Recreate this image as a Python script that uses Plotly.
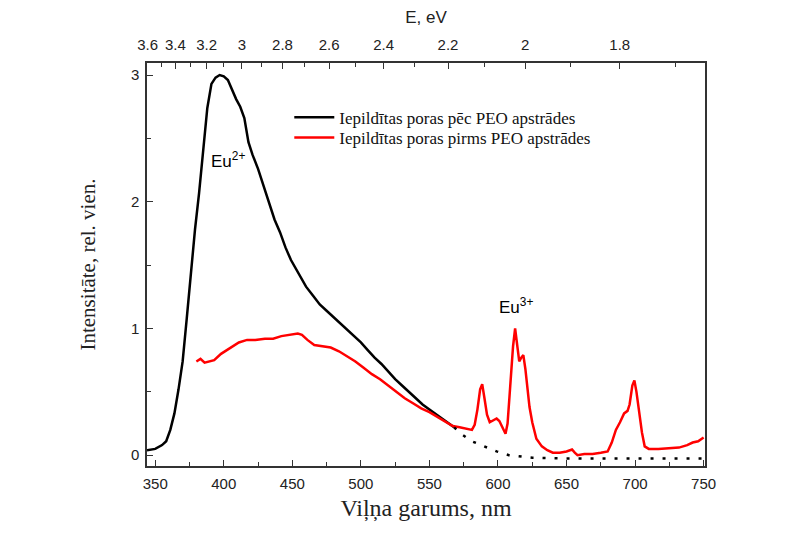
import plotly.graph_objects as go

# Eu2+ band, pores filled after PEO treatment (black)
wl_black = [344, 350, 355, 358, 361, 364, 367, 370, 373, 376, 379, 382, 385, 388, 391, 394, 397,
            400, 403, 406, 409, 412, 415, 418, 421, 425, 429, 433, 437, 441, 445, 449, 455, 460,
            465, 470, 475, 480, 485, 490, 495, 500, 505, 510, 515, 520, 525, 530, 535, 540, 545,
            550, 555, 560, 565, 568]
int_black = [0.04, 0.05, 0.08, 0.11, 0.20, 0.33, 0.52, 0.74, 1.08, 1.45, 1.78, 2.07, 2.40, 2.74,
             2.93, 2.98, 3.00, 2.99, 2.96, 2.88, 2.81, 2.75, 2.66, 2.47, 2.37, 2.26, 2.12, 1.99,
             1.86, 1.76, 1.64, 1.54, 1.43, 1.33, 1.26, 1.19, 1.14, 1.09, 1.04, 0.99, 0.94, 0.89,
             0.83, 0.77, 0.72, 0.66, 0.60, 0.55, 0.50, 0.45, 0.40, 0.36, 0.32, 0.28, 0.24, 0.22]

# extrapolated tail (dotted)
wl_tail = [568, 573, 581, 590, 599, 608, 616, 625, 650, 700, 750]
int_tail = [0.22, 0.17, 0.11, 0.07, 0.03, 0.0, -0.01, -0.02, -0.025, -0.025, -0.025]

# pores filled before PEO treatment (red)
wl_red = [380, 383, 386, 389, 393, 398, 404, 411, 417, 423, 430, 436, 442, 448, 454, 457, 461,
          466, 472, 478, 484, 490, 496, 502, 508, 514, 520, 526, 532, 538, 544, 550, 556, 562,
          567, 572, 577, 581, 583, 585, 587, 588.5, 590, 592, 594, 597, 599, 601, 603, 605.5,
          607, 609, 611, 612.5, 614, 615.5, 617, 618.5, 620, 621.5, 623, 625, 628, 632, 636,
          640, 645, 650, 654, 656, 658, 663, 669, 675, 680, 683, 686, 689, 692, 694.5, 696, 698,
          699.5, 701, 703, 705, 707, 710, 717, 725, 732, 738, 742, 746, 750]
int_red = [0.74, 0.76, 0.73, 0.74, 0.75, 0.80, 0.84, 0.89, 0.91, 0.91, 0.92, 0.92, 0.94, 0.95,
           0.96, 0.95, 0.91, 0.87, 0.86, 0.85, 0.82, 0.78, 0.74, 0.69, 0.64, 0.60, 0.55, 0.50,
           0.45, 0.41, 0.37, 0.34, 0.30, 0.26, 0.23, 0.22, 0.21, 0.20, 0.24, 0.36, 0.52, 0.56,
           0.46, 0.32, 0.26, 0.28, 0.29, 0.27, 0.23, 0.17, 0.25, 0.55, 0.86, 1.00, 0.86, 0.74,
           0.77, 0.79, 0.68, 0.50, 0.38, 0.26, 0.13, 0.07, 0.04, 0.02, 0.02, 0.03, 0.045, 0.02,
           0.0, 0.01, 0.01, 0.02, 0.03, 0.10, 0.20, 0.26, 0.33, 0.35, 0.40, 0.55, 0.59, 0.50,
           0.33, 0.18, 0.07, 0.05, 0.05, 0.055, 0.06, 0.08, 0.10, 0.11, 0.14]

# top axis: photon energy
e_major = [3.6, 3.4, 3.2, 3.0, 2.8, 2.6, 2.4, 2.2, 2.0, 1.8]
e_labels = ["3.6", "3.4", "3.2", "3", "2.8", "2.6", "2.4", "2.2", "2", "1.8"]
e_minor = [3.5, 3.3, 3.1, 2.9, 2.7, 2.5, 2.3, 2.1, 1.9, 1.7]
HC = 1239.84

xr = [344, 751]
serif = "Liberation Serif"
sans = "Liberation Sans"

fig = go.Figure()
fig.add_trace(go.Scatter(x=wl_black, y=int_black, mode="lines",
                         line=dict(color="black", width=2.5),
                         name="Iepildītas poras pēc PEO apstrādes", legend="legend"))
fig.add_trace(go.Scatter(x=wl_red, y=int_red, mode="lines",
                         line=dict(color="#ff0000", width=2.5),
                         name="Iepildītas poras pirms PEO apstrādes", legend="legend2"))
fig.add_trace(go.Scatter(x=wl_tail, y=int_tail, mode="lines",
                         line=dict(color="black", width=2.5, dash="3px,9px"),
                         showlegend=False))
# dummy trace so the top axis is drawn
fig.add_trace(go.Scatter(x=xr, y=[None, None], xaxis="x2", showlegend=False,
                         hoverinfo="skip"))

fig.add_annotation(x=403, y=2.33, text="Eu<sup>2+</sup>", showarrow=False,
                   font=dict(family=sans, size=17, color="black"))
fig.add_annotation(x=613, y=1.18, text="Eu<sup>3+</sup>", showarrow=False,
                   font=dict(family=sans, size=17, color="black"))

leg_style = dict(xanchor="left", yanchor="middle", bgcolor="rgba(0,0,0,0)",
                 font=dict(family=serif, size=17, color="#111"), itemwidth=40)

fig.update_layout(
    width=786, height=542,
    margin=dict(l=139, r=89, t=55, b=84, autoexpand=False),
    paper_bgcolor="white", plot_bgcolor="white",
    xaxis=dict(range=xr, tickvals=[350, 400, 450, 500, 550, 600, 650, 700, 750],
               ticks="inside", ticklen=6, tickwidth=1.2, tickcolor="#333",
               minor=dict(tickvals=[375, 425, 475, 525, 575, 625, 675, 725],
                          ticks="inside", ticklen=4, tickcolor="#333"),
               showline=True, linecolor="#333", linewidth=1.5, mirror=True,
               showgrid=False, zeroline=False, ticklabelstandoff=3, automargin=False,
               tickfont=dict(family=sans, size=15, color="#222"),
               title=dict(text="Viļņa garums, nm", standoff=8,
                          font=dict(family=serif, size=24, color="#222"))),
    xaxis2=dict(range=xr, overlaying="x", side="top",
                tickvals=[HC / e for e in e_major], ticktext=e_labels,
                ticks="inside", ticklen=6, tickwidth=1.2, tickcolor="#333",
                minor=dict(tickvals=[HC / e for e in e_minor],
                           ticks="inside", ticklen=4, tickcolor="#333"),
                showgrid=False, zeroline=False, showline=False, ticklabelstandoff=9,
                automargin=False,
                tickfont=dict(family=sans, size=15, color="#222"),
                title=dict(text="E, eV", standoff=13,
                           font=dict(family=sans, size=17, color="#222"))),
    yaxis=dict(range=[-0.085, 3.095], tickvals=[0, 1, 2, 3],
               ticks="inside", ticklen=6, tickwidth=1.2, tickcolor="#333",
               minor=dict(tickvals=[0.5, 1.5, 2.5], ticks="inside", ticklen=4,
                          tickcolor="#333"),
               showline=True, linecolor="#333", linewidth=1.5, mirror=True,
               showgrid=False, zeroline=False, ticklabelstandoff=3, automargin=False,
               tickfont=dict(family=sans, size=15, color="#222"),
               title=dict(text="Intensitāte, rel. vien.", standoff=30,
                          font=dict(family=serif, size=21, color="#222"))),
    legend=dict(x=0.255, y=0.864, **leg_style),
    legend2=dict(x=0.255, y=0.814, **leg_style),
    showlegend=True,
)

fig.write_html("out.html")
